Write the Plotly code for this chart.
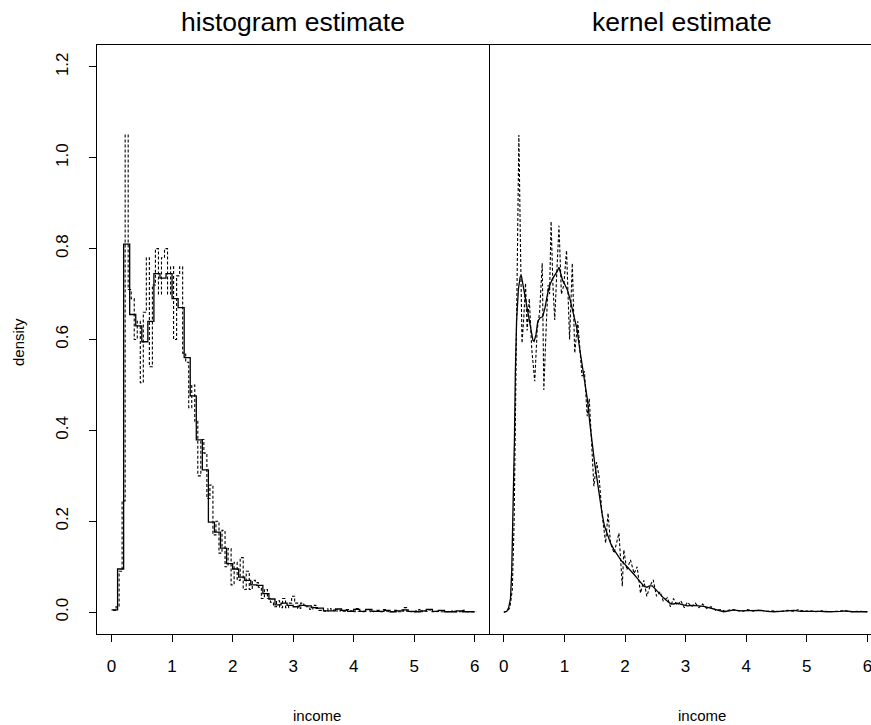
import plotly.graph_objects as go

# ---------------- data ----------------
# solid histogram: bin width 0.1, starting at 0
hist_wide_origin = 0.0
hist_wide_width = 0.1
hist_wide = [0.005, 0.095, 0.81, 0.655, 0.63, 0.595, 0.64, 0.745, 0.735, 0.745,
             0.69, 0.67, 0.56, 0.476, 0.379, 0.313, 0.198, 0.176, 0.141, 0.107,
             0.095, 0.077, 0.070, 0.060, 0.059, 0.041, 0.029, 0.016, 0.020, 0.015,
             0.012, 0.015, 0.014, 0.010, 0.009, 0.003, 0.003, 0.007, 0.004, 0.002,
             0.006, 0.002, 0.006, 0.002, 0.002, 0.004, 0.001, 0.003, 0.005, 0.002,
             0.001, 0.003, 0.006, 0.002, 0.004, 0.001, 0.001, 0.003, 0.001, 0.001]

# dotted histogram: bin width 0.05, starting at 0.025
hist_narrow_origin = 0.025
hist_narrow_width = 0.05
hist_narrow = [0.004, 0.012, 0.09, 0.245, 1.05, 0.71, 0.69, 0.60, 0.64, 0.505,
               0.66, 0.78, 0.54, 0.72, 0.80, 0.70, 0.78, 0.80, 0.70, 0.76,
               0.60, 0.74, 0.76, 0.57, 0.55, 0.45, 0.50, 0.42, 0.30, 0.38,
               0.35, 0.25, 0.28, 0.17, 0.20, 0.13, 0.18, 0.10, 0.14, 0.06,
               0.11, 0.07, 0.12, 0.05, 0.09, 0.05, 0.07, 0.065, 0.055, 0.03,
               0.05, 0.03, 0.022, 0.012, 0.025, 0.01, 0.03, 0.01, 0.02, 0.035,
               0.02, 0.008, 0.02, 0.015, 0.012, 0.006, 0.015, 0.008, 0.004, 0.003,
               0.002, 0.008, 0.003, 0.006, 0.002, 0.004, 0.002, 0.006, 0.003, 0.001,
               0.008, 0.002, 0.001, 0.006, 0.003, 0.001, 0.002, 0.004, 0.001, 0.006,
               0.002, 0.001, 0.001, 0.004, 0.001, 0.002, 0.010, 0.002, 0.001, 0.001,
               0.003, 0.006, 0.001, 0.002, 0.005, 0.001, 0.001, 0.002, 0.001, 0.001,
               0.001, 0.001, 0.003, 0.001, 0.001, 0.004, 0.001, 0.001, 0.001, 0.001]

# kernel estimate, large bandwidth (solid)
kern_smooth_x = [0.0, 0.05, 0.08, 0.11, 0.13, 0.155, 0.175, 0.19, 0.21, 0.24, 0.27, 0.29, 0.31,
                 0.33, 0.37, 0.41, 0.45, 0.48, 0.50, 0.53, 0.56, 0.60, 0.64, 0.68, 0.72, 0.76,
                 0.80, 0.85, 0.88, 0.91, 0.94, 0.97, 1.01, 1.05, 1.09, 1.13, 1.17, 1.21, 1.24,
                 1.27, 1.32, 1.38, 1.42, 1.46, 1.50, 1.54, 1.58, 1.62, 1.66, 1.71, 1.76, 1.82,
                 1.88, 1.94, 1.98, 2.04, 2.09, 2.15, 2.20, 2.26, 2.31, 2.36, 2.41, 2.45, 2.49,
                 2.53, 2.59, 2.64, 2.70, 2.75, 2.80, 2.86, 2.93, 3.03, 3.12, 3.20, 3.30, 3.38,
                 3.47, 3.55, 3.63, 3.72, 3.80, 3.88, 3.96, 4.05, 4.15, 4.24, 4.35, 4.46, 4.55,
                 4.65, 4.79, 4.90, 5.00, 5.12, 5.22, 5.34, 5.45, 5.55, 5.64, 5.75, 5.89, 6.0]
kern_smooth_y = [0.0, 0.002, 0.01, 0.03, 0.09, 0.23, 0.38, 0.527, 0.64, 0.71, 0.738, 0.74, 0.725,
                 0.702, 0.675, 0.651, 0.62, 0.598, 0.596, 0.61, 0.64, 0.648, 0.65, 0.67, 0.70, 0.72,
                 0.733, 0.742, 0.75, 0.759, 0.745, 0.73, 0.72, 0.709, 0.69, 0.669, 0.645, 0.621, 0.59,
                 0.563, 0.515, 0.467, 0.415, 0.365, 0.327, 0.291, 0.253, 0.218, 0.19, 0.170, 0.152, 0.137,
                 0.124, 0.113, 0.108, 0.100, 0.093, 0.083, 0.075, 0.065, 0.057, 0.055, 0.058, 0.058, 0.052,
                 0.046, 0.037, 0.031, 0.024, 0.019, 0.018, 0.020, 0.017, 0.014, 0.015, 0.014, 0.013, 0.010,
                 0.007, 0.003, 0.001, 0.003, 0.005, 0.003, 0.003, 0.004, 0.003, 0.004, 0.002, 0.001, 0.002,
                 0.003, 0.004, 0.002, 0.002, 0.003, 0.002, 0.001, 0.001, 0.002, 0.003, 0.001, 0.001, 0.001]

# kernel estimate, small bandwidth (dotted)
kern_rough_x = [0.0, 0.06, 0.10, 0.14, 0.17, 0.20, 0.22, 0.248, 0.275, 0.30, 0.33, 0.358, 0.385,
                0.42, 0.46, 0.51, 0.55, 0.59, 0.634, 0.66, 0.70, 0.73, 0.755, 0.78, 0.81, 0.84,
                0.875, 0.91, 0.95, 0.99, 1.035, 1.085, 1.13, 1.17, 1.22, 1.27, 1.29, 1.33, 1.376,
                1.41, 1.46, 1.486, 1.53, 1.57, 1.62, 1.68, 1.72, 1.76, 1.82, 1.90, 1.955, 1.98,
                2.03, 2.09, 2.15, 2.20, 2.256, 2.31, 2.36, 2.42, 2.466, 2.52, 2.58, 2.63, 2.70,
                2.75, 2.80, 2.86, 2.92, 2.98, 3.03, 3.10, 3.16, 3.22, 3.28, 3.35, 3.42, 3.50,
                3.58, 3.65, 3.75, 3.85, 3.95, 4.02, 4.12, 4.22, 4.32, 4.45, 4.55, 4.68, 4.78,
                4.86, 4.95, 5.05, 5.15, 5.25, 5.38, 5.50, 5.62, 5.75, 5.88, 6.0]
kern_rough_y = [0.0, 0.002, 0.01, 0.05, 0.2, 0.5, 0.8, 1.05, 0.8, 0.592, 0.65, 0.724, 0.62,
                0.69, 0.58, 0.508, 0.62, 0.66, 0.768, 0.489, 0.63, 0.72, 0.70, 0.86, 0.72, 0.643,
                0.75, 0.85, 0.70, 0.72, 0.796, 0.60, 0.768, 0.57, 0.64, 0.55, 0.519, 0.53, 0.431,
                0.47, 0.335, 0.277, 0.33, 0.30, 0.218, 0.152, 0.218, 0.152, 0.13, 0.174, 0.057, 0.137,
                0.093, 0.115, 0.085, 0.10, 0.042, 0.07, 0.035, 0.06, 0.071, 0.035, 0.045, 0.025, 0.032,
                0.012, 0.03, 0.015, 0.025, 0.01, 0.022, 0.012, 0.02, 0.01, 0.018, 0.008, 0.012, 0.004,
                0.006, 0.002, 0.006, 0.004, 0.002, 0.006, 0.002, 0.005, 0.002, 0.003, 0.001, 0.004, 0.002,
                0.006, 0.002, 0.003, 0.001, 0.003, 0.001, 0.002, 0.003, 0.001, 0.002, 0.001]

x_ticks = [0, 1, 2, 3, 4, 5, 6]
y_ticks = [0.0, 0.2, 0.4, 0.6, 0.8, 1.0, 1.2]
y_tick_text = ["0.0", "0.2", "0.4", "0.6", "0.8", "1.0", "1.2"]
titles = ["histogram estimate", "kernel estimate"]
x_label = "income"
y_label = "density"


def step_xy(origin, width, vals):
    xs = [origin + width * i for i in range(len(vals) + 1)]
    ys = list(vals) + [vals[-1]]
    return xs, ys


# ---------------- figure ----------------
W, H = 871, 725
ML, MR, MT, MB = 97, 0, 45, 91
split = (489.3 - ML) / (W - ML - MR)

FONT = "Liberation Sans, Arial, Helvetica, sans-serif"
fig = go.Figure()

hx, hy = step_xy(hist_wide_origin, hist_wide_width, hist_wide)
nx, ny = step_xy(hist_narrow_origin, hist_narrow_width, hist_narrow)

DOT = dict(color="black", width=1.1, dash="3px,2px")
SOLID = dict(color="black", width=1.3)

fig.add_trace(go.Scatter(x=nx, y=ny, mode="lines", line_shape="hv", line=DOT,
                         xaxis="x", yaxis="y", showlegend=False))
fig.add_trace(go.Scatter(x=hx, y=hy, mode="lines", line_shape="hv", line=SOLID,
                         xaxis="x", yaxis="y", showlegend=False))
fig.add_trace(go.Scatter(x=kern_rough_x, y=kern_rough_y, mode="lines", line=DOT,
                         xaxis="x2", yaxis="y2", showlegend=False))
fig.add_trace(go.Scatter(x=kern_smooth_x, y=kern_smooth_y, mode="lines", line=SOLID,
                         xaxis="x2", yaxis="y2", showlegend=False))

px_per_unit = (489.3 - 96.7) / 6.48
right_max = -0.24 + (W - 489.3) / px_per_unit

axis_common = dict(showgrid=False, zeroline=False, showline=True, linecolor="black",
                   linewidth=1, ticks="outside", ticklen=7, tickcolor="black", tickwidth=1,
                   tickfont=dict(family=FONT, size=17, color="black"))

fig.update_layout(
    width=W, height=H,
    margin=dict(l=ML, r=MR, t=MT, b=MB, pad=0),
    paper_bgcolor="white", plot_bgcolor="white",
    font=dict(family=FONT, color="black"),
    xaxis=dict(domain=[0, split], range=[-0.24, 6.24], tickvals=x_ticks,
               mirror=True, anchor="y", ticklabelstandoff=10, **axis_common),
    yaxis=dict(domain=[0, 1], range=[-0.048, 1.248], tickvals=y_ticks, ticktext=y_tick_text,
               tickangle=-90, mirror=True, anchor="x", ticklabelstandoff=14, **axis_common),
    xaxis2=dict(domain=[split, 1], range=[-0.24, right_max], tickvals=x_ticks,
                mirror=True, anchor="y2", ticklabelstandoff=10, ticklabeloverflow="allow",
                **axis_common),
    yaxis2=dict(domain=[0, 1], range=[-0.048, 1.248], showline=False,
                showgrid=False, zeroline=False, showticklabels=False,
                ticks="", anchor="x2"),
)


def paper_x(px):
    return (px - ML) / (W - ML - MR)


def paper_y(py):
    return (H - MB - py) / (H - MT - MB)


annos = [
    dict(text=titles[0], x=paper_x(293), y=paper_y(22), size=26.5),
    dict(text=titles[1], x=paper_x(682), y=paper_y(22), size=26.5),
    dict(text=x_label, x=paper_x(317), y=paper_y(715), size=15),
    dict(text=x_label, x=paper_x(702), y=paper_y(715), size=15),
]
for a in annos:
    fig.add_annotation(text=a["text"], x=a["x"], y=a["y"], xref="paper", yref="paper",
                       showarrow=False, xanchor="center", yanchor="middle",
                       font=dict(family=FONT, size=a["size"], color="black"))
fig.add_annotation(text=y_label, x=paper_x(18), y=paper_y(342), xref="paper", yref="paper",
                   showarrow=False, xanchor="center", yanchor="middle", textangle=-90,
                   font=dict(family=FONT, size=15, color="black"))

fig.write_html("out.html")
